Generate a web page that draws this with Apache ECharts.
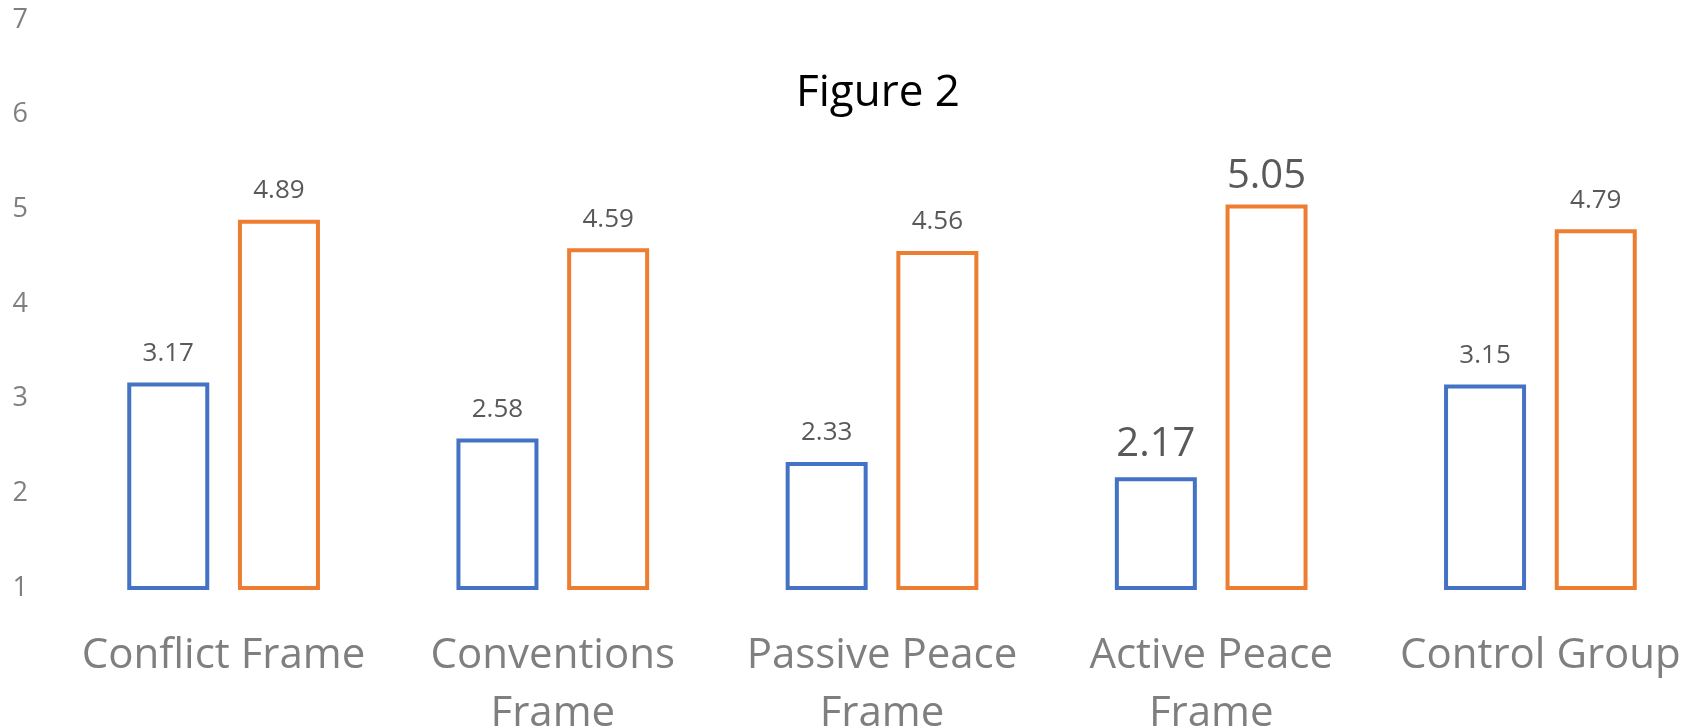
<!DOCTYPE html>
<html>
<head>
<meta charset="utf-8">
<script src="https://cdn.jsdelivr.net/npm/echarts@6/dist/echarts.min.js"></script>
<style>
  html, body { margin: 0; padding: 0; background: #fff; }
  #main { width: 1692px; height: 727px; }
</style>
</head>
<body>
<div id="main"></div>
<script>
var categories = ["Conflict Frame", "Conventions\nFrame", "Passive Peace\nFrame", "Active Peace\nFrame", "Control Group"];
var blueValues = [3.17, 2.58, 2.33, 2.17, 3.15];
var orangeValues = [4.89, 4.59, 4.56, 5.05, 4.79];
// the "Active Peace" labels are drawn bigger in the original
var bigLabelIndex = 3;

var FONT = "'Open Sans', 'Noto Sans', sans-serif";

function barData(values, bigDistance) {
  return values.map(function (v, i) {
    if (i !== bigLabelIndex) return v;
    return { value: v, label: { fontSize: 40, distance: bigDistance } };
  });
}

function barSeries(name, values, color, bigDistance) {
  return {
    name: name,
    type: "bar",
    data: barData(values, bigDistance),
    barWidth: 82,
    barGap: "35%",
    itemStyle: {
      color: "rgba(255,255,255,0)",
      borderColor: color,
      borderWidth: 4,
    },
    label: {
      show: true,
      position: "top",
      distance: 16,
      fontSize: 26,
      fontFamily: FONT,
      color: "#595959",
      formatter: function (p) { return p.value.toFixed(2); },
    },
  };
}

var myChart = echarts.init(document.getElementById("main"));
myChart.setOption({
  animation: false,
  title: {
    text: "Figure 2",
    left: 873,
    top: 66,
    textAlign: "center",
    textStyle: {
      fontSize: 44,
      fontWeight: "normal",
      fontFamily: FONT,
      color: "#000",
    },
  },
  grid: {
    left: 59,
    top: 20,
    bottom: 139,
    width: 1646,
    containLabel: false,
    outerBoundsMode: "none",
  },
  xAxis: {
    type: "category",
    data: categories,
    axisLine: { show: false },
    axisTick: { show: false },
    axisLabel: {
      fontSize: 42,
      fontFamily: FONT,
      color: "#7f7f7f",
      lineHeight: 58,
      margin: 39,
      interval: 0,
    },
  },
  yAxis: {
    type: "value",
    min: 1,
    max: 7,
    interval: 1,
    axisLine: { show: false },
    axisTick: { show: false },
    splitLine: { show: false },
    axisLabel: {
      fontSize: 27,
      fontFamily: FONT,
      color: "#7f7f7f",
      margin: 31,
      padding: [9, 0, 0, 0],
    },
  },
  series: [
    barSeries("Blue", blueValues, "#4472C4", 13),
    barSeries("Orange", orangeValues, "#ED7D31", 8),
  ],
});
</script>
</body>
</html>
